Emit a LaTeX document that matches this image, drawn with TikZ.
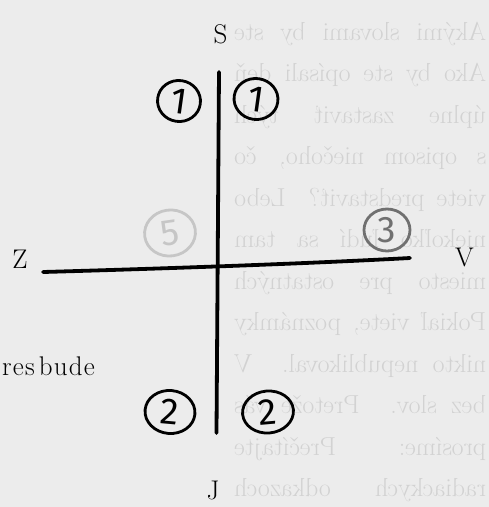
\documentclass[tikz,border=0pt]{standalone}
\usepackage{fontspec}
\usepackage{graphicx}
\usetikzlibrary{shapes.geometric}
\newfontfamily\handfont{Fira Sans}
\definecolor{paper}{HTML}{ECECEC}
\definecolor{ghost}{HTML}{D2D2D2}
\definecolor{ringmid}{HTML}{707070}
\definecolor{ringfaint}{HTML}{C6C6C6}
\newcommand{\ghostline}[1]{\reflectbox{\makebox[252pt][s]{#1}}}
\begin{document}
\begin{tikzpicture}[x=1pt,y=-1pt,
  axisline/.style={line width=3.8pt, line cap=round},
  dirlabel/.style={font=\fontsize{27}{28}\selectfont, inner sep=0pt},
  ring/.style={draw, ellipse, line width=2.8pt, inner sep=0pt,
    font=\handfont\fontsize{37}{37}\selectfont},
  ghosttext/.style={text=ghost, font=\fontsize{26}{27}\selectfont, inner sep=0pt, anchor=base west},
  booktext/.style={font=\fontsize{27}{28}\selectfont, inner sep=0pt, anchor=base west}]
\useasboundingbox (0,0) rectangle (489,507);
\fill[paper] (0,0) rectangle (489,507);
\begin{scope}
\clip (0,0) rectangle (489,507);
\node[ghosttext] (g1) at (234,40) {\ghostline{Akými slovami by ste}};
\node[ghosttext] (g2) at (234,81) {\ghostline{Ako by ste opísali deň}};
\node[ghosttext] (g3) at (234,123) {\ghostline{úplne zastaviť tých}};
\node[ghosttext] (g4) at (234,164) {\ghostline{s opisom niečoho, čo}};
\node[ghosttext] (g5) at (234,206) {\ghostline{viete predstaviť? Lebo}};
\node[ghosttext] (g6) at (234,247) {\ghostline{niekoľko ľudí sa tam}};
\node[ghosttext] (g7) at (234,289) {\ghostline{miesto pre ostatných}};
\node[ghosttext] (g8) at (234,330) {\ghostline{Pokiaľ viete, poznámky}};
\node[ghosttext] (g9) at (234,372) {\ghostline{nikto nepublikoval. V}};
\node[ghosttext] (g10) at (234,413) {\ghostline{bez slov. Pretože vás}};
\node[ghosttext] (g11) at (234,455) {\ghostline{prosíme: Prečítajte}};
\node[ghosttext] (g12) at (234,496) {\ghostline{radiackych odkazoch}};
\end{scope}
% axes
\coordinate (top) at (219,72);
\coordinate (bottom) at (216.5,433);
\coordinate (west) at (43,272);
\coordinate (east) at (410,258);
\draw[axisline] (top) -- (bottom);
\draw[axisline] (west) .. controls (150,269) and (300,264) .. (east);
% direction labels
\node[dirlabel] (S) at (220.5,34.5) {S};
\node[dirlabel] (J) at (213,490) {J};
\node[dirlabel] (Z) at (20,259.5) {Z};
\node[dirlabel] (V) at (464.5,257.5) {V};
% page text
\node[booktext] (word) at (2,375) {r\kern1.2pt e\kern1.2pt s\kern4pt b\kern1.2pt u\kern1.2pt d\kern1.2pt e};
% rings
\node[ring, minimum width=43pt, minimum height=41pt, rotate=-8] (r1a) at (179,101) {1};
\node[ring, minimum width=44pt, minimum height=41pt, rotate=-8] (r1b) at (256,99) {1};
\node[ring, minimum width=50pt, minimum height=43pt, rotate=-5] (r2a) at (170,412) {2};
\node[ring, minimum width=51pt, minimum height=42pt, rotate=5] (r2b) at (268,412) {2};
\node[ring, draw=ringmid, text=ringmid, minimum width=46pt, minimum height=42pt] (r3) at (387,230) {3};
\node[ring, draw=ringfaint, text=ringfaint, minimum width=51pt, minimum height=46pt, rotate=8] (r5) at (170,233) {5};
\end{tikzpicture}
\end{document}
